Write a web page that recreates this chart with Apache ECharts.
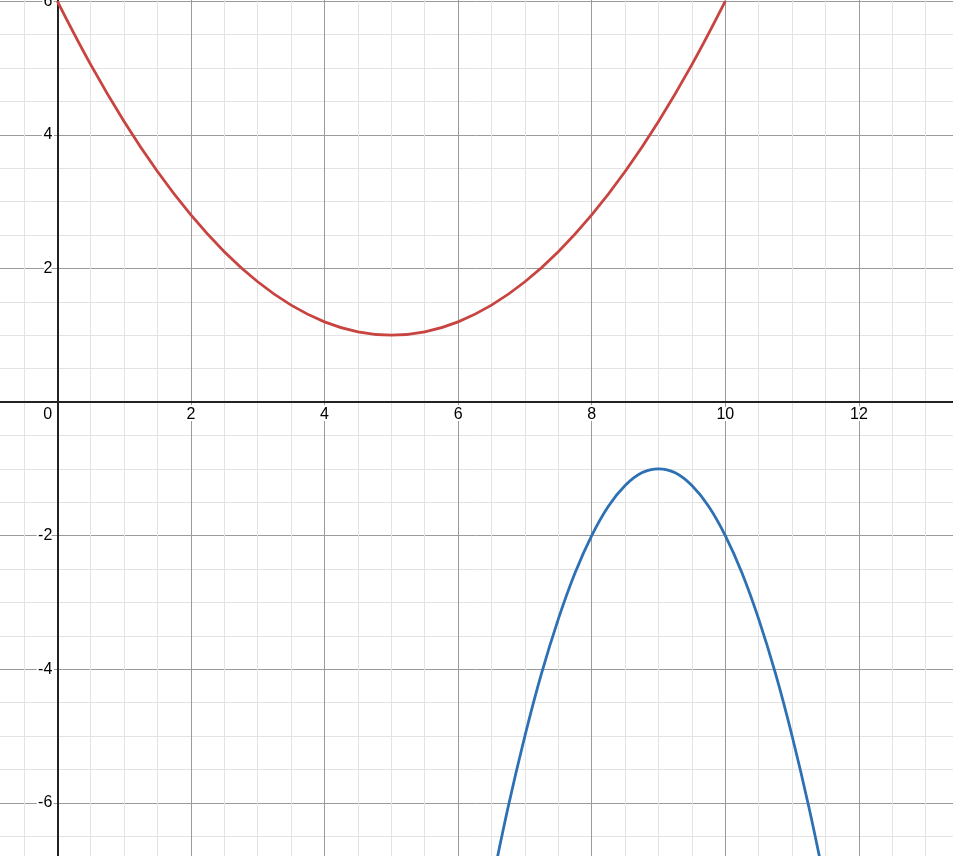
<!DOCTYPE html>
<html>
<head>
<meta charset="utf-8">
<script src="https://cdn.jsdelivr.net/npm/echarts@6/dist/echarts.min.js"></script>
<style>
html,body{margin:0;padding:0;background:#fff;}
#chart{width:953px;height:856px;}
</style>
</head>
<body>
<div id="chart"></div>
<script>
// Red curve
const redX = [0, 0.5, 1, 1.5, 2, 2.5, 3, 3.5, 4, 4.5, 5, 5.5, 6, 6.5, 7, 7.5, 8, 8.5, 9, 9.5, 10];
const redY = [6, 5.05, 4.2, 3.45, 2.8, 2.25, 1.8, 1.45, 1.2, 1.05, 1, 1.05, 1.2, 1.45, 1.8, 2.25, 2.8, 3.45, 4.2, 5.05, 6];
// Blue curve
const blueX = [6.5, 6.75, 7, 7.25, 7.5, 7.75, 8, 8.25, 8.5, 8.75, 9, 9.25, 9.5, 9.75, 10, 10.25, 10.5, 10.75, 11, 11.25, 11.5];
const blueY = [-7.25, -6.06, -5, -4.06, -3.25, -2.56, -2, -1.56, -1.25, -1.06, -1, -1.06, -1.25, -1.56, -2, -2.56, -3.25, -4.06, -5, -6.06, -7.25];
// Axis labels every 2 units
const xTickLabels = [0, 2, 4, 6, 8, 10, 12];
const yTickLabels = [-6, -4, -2, 2, 4, 6];

const MINOR = '#e3e3e3';
const MAJOR = '#9a9a9a';
const FONT = 'Liberation Sans, Arial, sans-serif';
const labelBase = { fontSize: 16, color: '#000', fontFamily: FONT, textBorderColor: '#fff', textBorderWidth: 4 };

const chart = echarts.init(document.getElementById('chart'));
chart.setOption({
  backgroundColor: '#fff',
  animation: false,
  grid: { left: -9.5, right: -6.1, top: -32.2, bottom: -13.6, containLabel: false, outerBoundsMode: 'none' },
  xAxis: {
    type: 'value', min: -1, max: 13.5, interval: 0.5,
    position: 'bottom', offset: -467.6,
    axisLine: { onZero: false, lineStyle: { color: '#222', width: 2 } },
    axisTick: { show: false },
    splitLine: { show: true, lineStyle: { color: [MINOR, MINOR, MAJOR, MINOR], width: 1 } },
    axisLabel: Object.assign({}, labelBase, {
      margin: 5,
      formatter: function (v) {
        if (xTickLabels.indexOf(v) < 0) return '';
        if (v === 0) return '{z|0}';
        return String(v);
      },
      rich: { z: Object.assign({}, labelBase, { padding: [0, 19, 0, 0] }) }
    }),
    z: 5
  },
  yAxis: {
    type: 'value', min: -7, max: 6.5, interval: 0.5,
    position: 'left', offset: -66.8,
    axisLine: { onZero: false, lineStyle: { color: '#222', width: 2 } },
    axisTick: { show: false },
    splitLine: { show: true, lineStyle: { color: [MINOR, MINOR, MAJOR, MINOR], width: 1 } },
    axisLabel: Object.assign({}, labelBase, {
      margin: 5,
      formatter: function (v) {
        return yTickLabels.indexOf(v) < 0 ? '' : String(v);
      }
    }),
    z: 5
  },
  series: [
    {
      type: 'line', data: redX.map((x, i) => [x, redY[i]]), smooth: 0.4,
      showSymbol: false, clip: true,
      lineStyle: { color: '#c74440', width: 2.8 }, z: 10
    },
    {
      type: 'line', data: blueX.map((x, i) => [x, blueY[i]]), smooth: 0.4,
      showSymbol: false, clip: true,
      lineStyle: { color: '#2d70b3', width: 2.8 }, z: 10
    }
  ]
});
</script>
</body>
</html>
